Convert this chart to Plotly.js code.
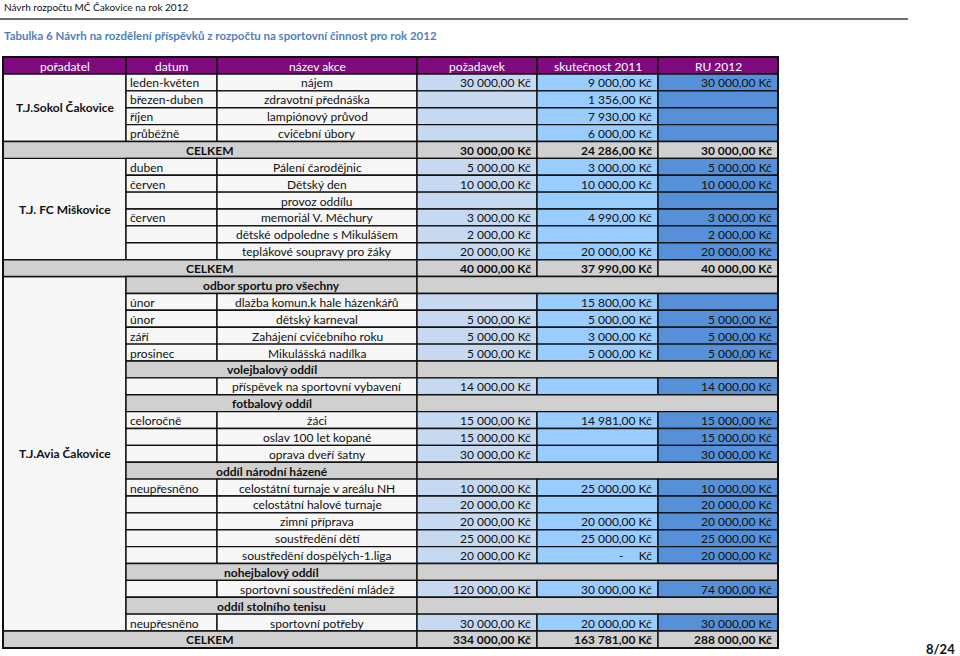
<!DOCTYPE html>
<html>
<head>
<meta charset="utf-8">
<script src="https://cdn.plot.ly/plotly-3.0.1.min.js"></script>
<style>
  html, body { margin: 0; padding: 0; background: #fff; }
  #chart { width: 960px; height: 656px; }
</style>
</head>
<body>
<div id="chart"></div>
<script>
const pageHeader = 'Návrh rozpočtu MČ Čakovice na rok 2012';
const tableTitle = 'Tabulka 6 Návrh na rozdělení příspěvků z rozpočtu na sportovní činnost pro rok 2012';
const pageNumber = '8/24';

const headers = ['pořadatel', 'datum', 'název akce', 'požadavek', 'skutečnost 2011', 'RU 2012'];

const organizers = ['T.J.Sokol Čakovice', 'T.J. FC Miškovice', 'T.J.Avia Čakovice'];
const orgFirstRow = [0, 5, 12];
const orgLastRow = [3, 10, 32];

// item = normal row, total = CELKEM, section = sub-heading of a club
const rowType = [
  'item', 'item', 'item', 'item', 'total',
  'item', 'item', 'item', 'item', 'item', 'item', 'total',
  'section', 'item', 'item', 'item', 'item',
  'section', 'item',
  'section', 'item', 'item', 'item',
  'section', 'item', 'item', 'item', 'item', 'item',
  'section', 'item',
  'section', 'item', 'total'
];

const dates = [
  'leden-květen', 'březen-duben', 'říjen', 'průběžně', '',
  'duben', 'červen', '', 'červen', '', '', '',
  '', 'únor', 'únor', 'září', 'prosinec',
  '', '',
  '', 'celoročně', '', '',
  '', 'neupřesněno', '', '', '', '',
  '', '',
  '', 'neupřesněno', ''
];

const events = [
  'nájem', 'zdravotní přednáška', 'lampiónový průvod', 'cvičební úbory', 'CELKEM',
  'Pálení čarodějnic', 'Dětský den', 'provoz oddílu', 'memoriál V. Měchury',
  'dětské odpoledne s Mikulášem', 'teplákové soupravy pro žáky', 'CELKEM',
  'odbor sportu pro všechny', 'dlažba komun.k hale házenkářů', 'dětský karneval',
  'Zahájení cvičebního roku', 'Mikulášská nadílka',
  'volejbalový oddíl', 'příspěvek na sportovní vybavení',
  'fotbalový oddíl', 'žáci', 'oslav 100 let kopané', 'oprava dveří šatny',
  'oddíl národní házené', 'celostátní turnaje v areálu NH', 'celostátní halové turnaje',
  'zimní příprava', 'soustředění dětí', 'soustředění dospělých-1.liga',
  'nohejbalový oddíl', 'sportovní soustředění mládež',
  'oddíl stolního tenisu', 'sportovní potřeby', 'CELKEM'
];

const requested = [
  30000, null, null, null, 30000,
  5000, 10000, null, 3000, 2000, 20000, 40000,
  null, null, 5000, 5000, 5000,
  null, 14000,
  null, 15000, 15000, 30000,
  null, 10000, 20000, 20000, 25000, 20000,
  null, 120000,
  null, 30000, 334000
];

const actual2011 = [
  9000, 1356, 7930, 6000, 24286,
  3000, 10000, null, 4990, null, 20000, 37990,
  null, 15800, 5000, 3000, 5000,
  null, null,
  null, 14981, null, null,
  null, 25000, null, 20000, 25000, 0,
  null, 30000,
  null, 20000, 163781
];

const budget2012 = [
  30000, null, null, null, 30000,
  5000, 10000, null, 3000, 2000, 20000, 40000,
  null, null, 5000, 5000, 5000,
  null, 14000,
  null, 15000, 15000, 30000,
  null, 10000, 20000, 20000, 25000, 20000,
  null, 74000,
  null, 30000, 288000
];

// --- layout of the grid (pixel axes) ---
const colEdges = [3, 126, 217, 417, 537, 658, 778];
const tableTop = 57;
const headerH = 17;
const rowH = 16.88;
const FONT = 'Lato, "Open Sans", sans-serif';

const purple = '#7e0a7e';
const paleCell = '#f7f7f7';
const grayCell = '#d0d0d0';
const valueFills = ['#c6d9f1', '#99ccff', '#5590d8'];
const valueSeries = [requested, actual2011, budget2012];

const NB = '\u00a0';
function money(v) {
  if (v === null || v === undefined) return '';
  if (v === 0) return '-' + NB.repeat(5) + 'Kč';
  const parts = v.toFixed(2).split('.');
  const intPart = parts[0].replace(/\B(?=(\d{3})+(?!\d))/g, NB);
  return intPart + ',' + parts[1] + NB + 'Kč';
}

const shapes = [];
const annotations = [];

function cell(x0, x1, y0, y1, fill, width) {
  shapes.push({
    type: 'rect', xref: 'x', yref: 'y', x0: x0, x1: x1, y0: y0, y1: y1,
    fillcolor: fill, line: { color: '#111', width: width || 1.4 }, layer: 'below'
  });
}

function label(text, x, y, align, opts) {
  opts = opts || {};
  annotations.push({
    text: opts.bold ? '<b>' + text + '</b>' : text,
    x: x, y: y, xref: 'x', yref: 'y',
    xanchor: align, yanchor: 'middle', showarrow: false,
    font: { family: FONT, size: opts.size || 12, color: opts.color || '#111' }
  });
}

const rowY0 = i => tableTop + headerH + i * rowH;
const rowY1 = i => rowY0(i) + rowH;
const rowMid = i => rowY0(i) + rowH / 2;

// header row
headers.forEach((h, c) => {
  cell(colEdges[c], colEdges[c + 1], tableTop, tableTop + headerH, purple);
  label(h, (colEdges[c] + colEdges[c + 1]) / 2, tableTop + headerH / 2 + 0.5, 'center', { color: '#ffffff' });
});

// organizer cells spanning their rows
organizers.forEach((name, k) => {
  const y0 = rowY0(orgFirstRow[k]);
  const y1 = rowY1(orgLastRow[k]);
  cell(colEdges[0], colEdges[1], y0, y1, paleCell);
  label(name, (colEdges[0] + colEdges[1]) / 2, (y0 + y1) / 2, 'center', { bold: true });
});

rowType.forEach((kind, i) => {
  const y0 = rowY0(i), y1 = rowY1(i), ym = rowMid(i) + 0.5;
  if (kind === 'total') {
    cell(colEdges[0], colEdges[3], y0, y1, grayCell);
    label(events[i], (colEdges[0] + colEdges[3]) / 2, ym, 'center', { bold: true });
    valueSeries.forEach((s, c) => {
      cell(colEdges[3 + c], colEdges[4 + c], y0, y1, grayCell);
      label(money(s[i]), colEdges[4 + c] - 4, ym, 'right', { bold: true });
    });
  } else if (kind === 'section') {
    cell(colEdges[1], colEdges[3], y0, y1, grayCell);
    label(events[i], (colEdges[1] + colEdges[3]) / 2, ym, 'center', { bold: true });
    cell(colEdges[3], colEdges[6], y0, y1, grayCell);
  } else {
    cell(colEdges[1], colEdges[2], y0, y1, paleCell);
    label(dates[i], colEdges[1] + 2, ym, 'left');
    cell(colEdges[2], colEdges[3], y0, y1, paleCell);
    label(events[i], (colEdges[2] + colEdges[3]) / 2, ym, 'center');
    valueSeries.forEach((s, c) => {
      cell(colEdges[3 + c], colEdges[4 + c], y0, y1, valueFills[c]);
      label(money(s[i]), colEdges[4 + c] - 4, ym, 'right');
    });
  }
});

// outer frame
shapes.push({
  type: 'rect', xref: 'x', yref: 'y',
  x0: colEdges[0], x1: colEdges[6], y0: tableTop, y1: rowY1(rowType.length - 1),
  line: { color: '#111', width: 2 }, fillcolor: 'rgba(0,0,0,0)'
});

// page header rule
shapes.push({
  type: 'line', xref: 'x', yref: 'y', x0: 0, x1: 908, y0: 19, y1: 19,
  line: { color: '#6d6d6d', width: 2 }
});

label(pageHeader, 2, 7, 'left', { size: 10, color: '#111' });
label(tableTitle, 2, 35, 'left', { size: 11.5, bold: true, color: '#4f81bd' });
label(pageNumber, 957, 649, 'right', { size: 13, bold: true, color: '#111' });

const layout = {
  width: 960, height: 656,
  margin: { l: 0, r: 0, t: 0, b: 0 },
  paper_bgcolor: '#ffffff', plot_bgcolor: '#ffffff',
  showlegend: false,
  xaxis: { range: [0, 960], visible: false, fixedrange: true },
  yaxis: { range: [656, 0], visible: false, fixedrange: true },
  shapes: shapes,
  annotations: annotations
};

// an empty trace keeps the cartesian axes alive
Plotly.newPlot('chart', [{ x: [], y: [], type: 'scatter', mode: 'markers', hoverinfo: 'skip' }], layout, { displayModeBar: false, staticPlot: true });
</script>
</body>
</html>
